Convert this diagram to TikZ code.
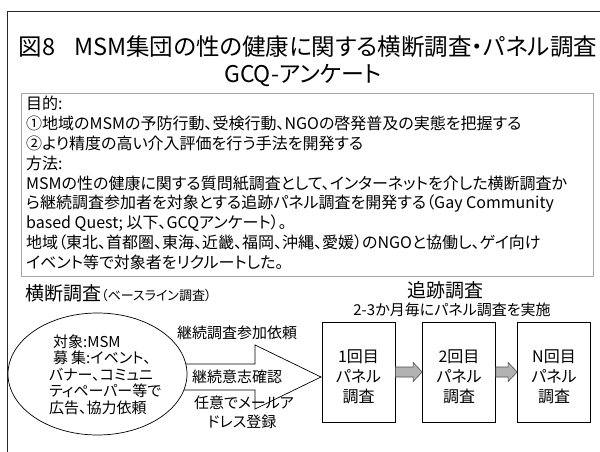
\documentclass[tikz,border=0pt]{standalone}
\usepackage{fontspec}
\setmainfont[RawFeature=+palt]{Noto Sans CJK JP}
\usetikzlibrary{calc,shapes.geometric}
\newcommand\fsz[2]{\fontsize{#1}{#2}\selectfont}
\begin{document}
\begin{tikzpicture}[x=1pt,y=-1pt,
  body/.style={anchor=west, inner sep=0pt, font=\fsz{16}{20}, text height=14pt, text depth=2pt},
  lab/.style={inner sep=0pt, font=\fsz{15}{18}},
  panel/.style={draw, line width=0.7pt, minimum width=73pt, minimum height=100pt, inner sep=0pt},
  ptext/.style={inner sep=0pt, align=center, font=\fsz{16}{20}},
  garrow/.style={fill=gray!60, draw=black!70, line width=0.6pt},
  bigarrow/.style={fill=white, draw=black, line width=0.7pt}]
\useasboundingbox (0,0) rectangle (600,452);
\clip (0,0) rectangle (600,452);
\fill[white] (0,0) rectangle (600,452);
% outer frame
\draw[line width=1.6pt, black!85] (7.5,470) -- (7.5,11.5) -- (620,11.5);
% title
\node[inner sep=0pt, font=\fsz{23.5}{27}] (title1) at (308,47) {図8\hspace{0.8em}MSM集団の性の健康に関する横断調査・パネル調査};
\node[inner sep=0pt, font=\fsz{23}{27}] (title2) at (303,76) {GCQ-アンケート};
% purpose box
\node[draw=gray!70, line width=0.6pt, minimum width=572pt, minimum height=183pt, anchor=north west, inner sep=0pt] (pbox) at (21,93) {};
\node[body] (l1) at (26,104) {目的:};
\node[body] (l2) at (26,123.75) {①地域のMSMの予防行動、受検行動、NGOの啓発普及の実態を把握する};
\node[body] (l3) at (26,143.5) {②より精度の高い介入評価を行う手法を開発する};
\node[body] (l4) at (26,163.25) {方法:};
\node[body] (l5) at (26,183) {MSMの性の健康に関する質問紙調査として、インターネットを介した横断調査か};
\node[body] (l6) at (26,202.75) {ら継続調査参加者を対象とする追跡パネル調査を開発する（Gay Community};
\node[body] (l7) at (26,222.5) {based Quest; 以下、GCQアンケート）。};
\node[body] (l8) at (26,242.25) {地域（東北、首都圏、東海、近畿、福岡、沖縄、愛媛）のNGOと協働し、ゲイ向け};
\node[body] (l9) at (26,262) {イベント等で対象者をリクルートした。};
% section headers
\node[anchor=base west, inner sep=0pt] (h1) at (25,300) {\fsz{19}{22}横断調査\fsz{13}{16}（ベースライン調査）};
\node[inner sep=0pt, font=\fsz{19}{22}] (h2) at (445,290) {追跡調査};
\node[inner sep=0pt, font=\fsz{15}{18}] (h3) at (452,309.5) {2-3か月毎にパネル調査を実施};
% panels
\node[panel] (b1) at (358.5,372) {};
\node[panel] (b2) at (459,372) {};
\node[panel] (b3) at (554,372) {};
\node[ptext] (t1) at ([yshift=-5pt]b1.center) {1回目\\パネル\\調査};
\node[ptext] (t2) at ([yshift=-5pt]b2.center) {2回目\\パネル\\調査};
\node[ptext] (t3) at ([yshift=-5pt]b3.center) {N回目\\パネル\\調査};
% big arrow
\coordinate (tip) at (321,377);
\draw[bigarrow] (175,364) -- (255,364) -- (255,345) -- (tip) -- (255,409) -- (255,390) -- (175,390) -- cycle;
% ellipse
\node[draw, ellipse, fill=white, line width=0.7pt, minimum width=179pt, minimum height=122pt, inner sep=0pt] (ell) at (97.5,374) {};
\node[anchor=west, inner sep=0pt, align=left, font=\fsz{15}{16.5}] (etext) at (49,374.5) {\hspace{4pt}対象:MSM\\\hspace{4pt}募\hspace{3pt}集:イベント、\\バナー、コミュニ\\ティペーパー等で\\広告、協力依頼};
% arrow labels
\node[lab] (a1) at (237,333) {継続調査参加依頼};
\node[lab] (a2) at (237,377) {継続意志確認};
\node[lab] (a3) at (244,403) {任意でメールア};
\node[lab] (a4) at (242,422) {ドレス登録};
% gray arrows
\coordinate (g1s) at (b1.east); \coordinate (g1e) at (b2.west);
\draw[garrow] ($(g1s)+(0,-5)$) -- ($(g1e)+(-9,-5)$) -- ($(g1e)+(-9,-9.5)$) -- (g1e) -- ($(g1e)+(-9,9.5)$) -- ($(g1e)+(-9,5)$) -- ($(g1s)+(0,5)$) -- cycle;
\coordinate (g2s) at (b2.east); \coordinate (g2e) at (b3.west);
\draw[garrow] ($(g2s)+(0,-5)$) -- ($(g2e)+(-9,-5)$) -- ($(g2e)+(-9,-9.5)$) -- (g2e) -- ($(g2e)+(-9,9.5)$) -- ($(g2e)+(-9,5)$) -- ($(g2s)+(0,5)$) -- cycle;
\end{tikzpicture}
\end{document}
